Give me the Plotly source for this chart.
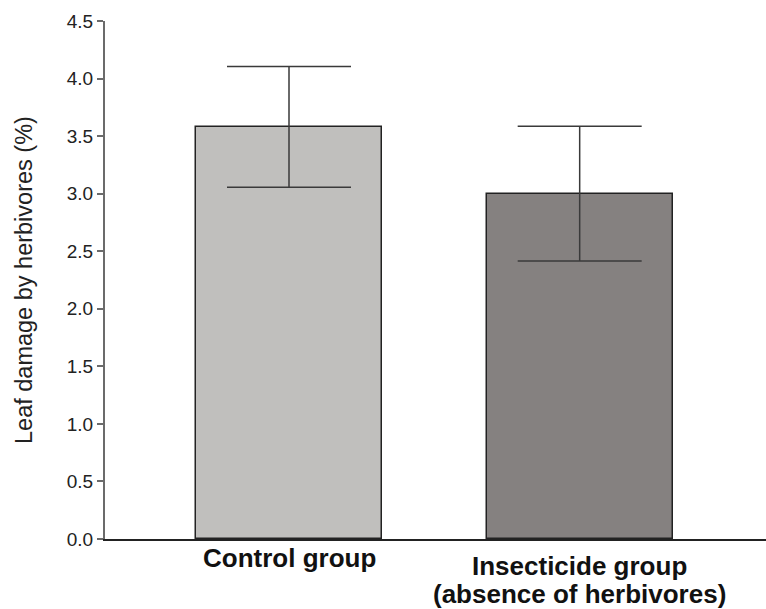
import plotly.graph_objects as go

categories = ["Control group", "Insecticide group<br>(absence of herbivores)"]
values = [3.58, 3.00]
errors = [0.525, 0.585]
bar_colors = ["#c0bfbd", "#858180"]
y_ticks = [0.0, 0.5, 1.0, 1.5, 2.0, 2.5, 3.0, 3.5, 4.0, 4.5]
y_title = "Leaf damage by herbivores (%)"

xpos = list(range(len(categories)))

fig = go.Figure()
fig.add_trace(go.Bar(
    x=xpos, y=values, width=0.64,
    marker=dict(color=bar_colors, line=dict(color="#222222", width=1.5)),
    error_y=dict(type="data", array=errors, visible=True,
                 color="#3a3a3a", thickness=1.5, width=62),
    showlegend=False, hoverinfo="skip",
))

# category labels (one annotation per line)
label_shifts = [[-19], [-27, -55]]
for i, cat in enumerate(categories):
    lines = cat.split("<br>")
    for j, line in enumerate(lines):
        fig.add_annotation(
            x=xpos[i], xref="x", y=0, yref="paper",
            text="<b>%s</b>" % line, showarrow=False,
            xanchor="center", yanchor="middle",
            yshift=label_shifts[i][j],
            font=dict(family="Liberation Sans, Arial", size=26, color="#111111"),
        )

fig.add_annotation(
    x=0, xref="paper", y=0.5, yref="paper", text=y_title,
    textangle=-90, showarrow=False, xanchor="center", yanchor="middle",
    xshift=-81,
    font=dict(family="Liberation Sans, Arial", size=23.5, color="#222222"),
)

fig.update_layout(
    width=766, height=609,
    margin=dict(l=105, r=0, t=21, b=70, pad=0),
    paper_bgcolor="white", plot_bgcolor="white",
    bargap=0,
    xaxis=dict(range=[-0.633, 1.641], showticklabels=False, ticks="",
               showgrid=False, zeroline=False,
               showline=True, linecolor="#222222", linewidth=1.5),
    yaxis=dict(range=[0, 4.5], tickvals=y_ticks,
               ticktext=["%.1f" % v for v in y_ticks],
               ticks="outside", ticklen=6, tickwidth=1.5, tickcolor="#6b6b6b",
               showgrid=False, zeroline=False,
               showline=True, linecolor="#6b6b6b", linewidth=2,
               tickfont=dict(family="Liberation Sans, Arial", size=19, color="#222222")),
)

fig.write_html("out.html")
